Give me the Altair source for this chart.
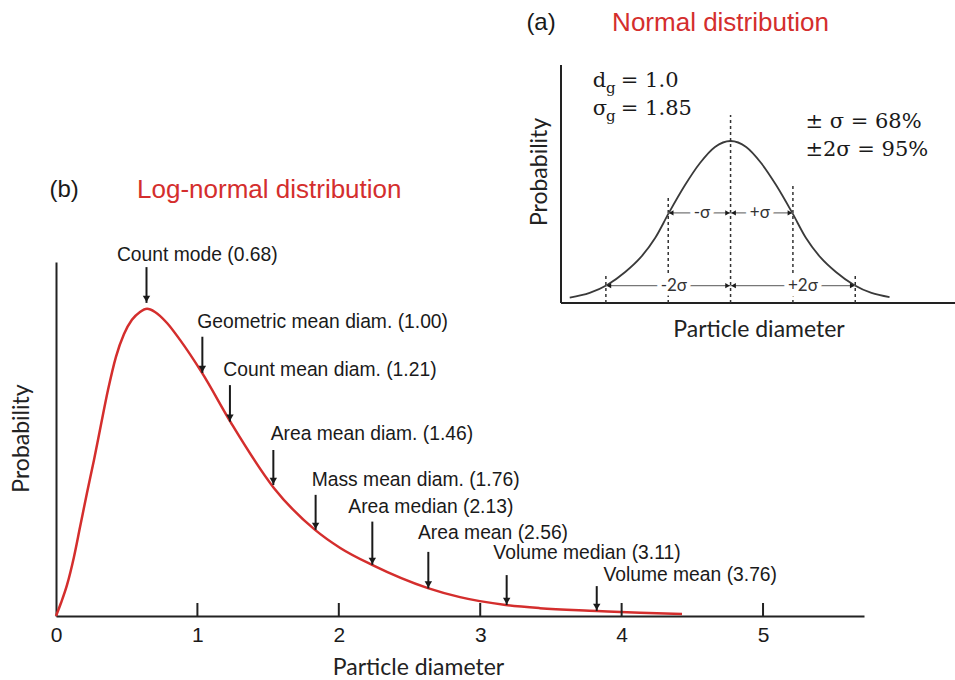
import altair as alt
import pandas as pd

# ---------------- data ----------------
# (b) log-normal curve
curve_x = [0, 0.035, 0.078, 0.127, 0.170, 0.219, 0.269, 0.318, 0.368, 0.424, 0.481, 0.537,
           0.594, 0.644, 0.700, 0.785, 0.877, 1.033, 1.238, 1.542, 1.832, 2.01, 2.235, 2.63,
           2.857, 3.18, 3.42, 3.826, 4.13, 4.427]
curve_y = [0, 0.033, 0.079, 0.150, 0.226, 0.313, 0.397, 0.486, 0.575, 0.659, 0.717, 0.753,
           0.773, 0.781, 0.773, 0.745, 0.702, 0.618, 0.491, 0.325, 0.219, 0.173, 0.130, 0.071,
           0.048, 0.028, 0.020, 0.013, 0.008, 0.005]
tick_values = [0, 1, 2, 3, 4, 5]

ann_labels = ["Count mode (0.68)", "Geometric mean diam. (1.00)", "Count mean diam. (1.21)",
              "Area mean diam. (1.46)", "Mass mean diam.  (1.76)", "Area median (2.13)",
              "Area mean (2.56)", "Volume median (3.11)", "Volume mean (3.76)"]
arrow_x = [0.64, 1.035, 1.23, 1.537, 1.836, 2.237, 2.633, 3.187, 3.824]
arrow_top = [0.887, 0.710, 0.587, 0.422, 0.308, 0.240, 0.163, 0.104, 0.076]
arrow_tip = [0.796, 0.618, 0.494, 0.333, 0.219, 0.130, 0.070, 0.028, 0.013]
label_x = [0.431, 0.999, 1.183, 1.518, 1.808, 2.067, 2.56, 3.093, 3.871]
label_y = [0.918, 0.748, 0.625, 0.463, 0.346, 0.278, 0.21, 0.159, 0.104]

# (a) normal curve (x in sigma units, y relative to peak)
norm_x = [-2.58, -2.26, -1.98, -1.69, -1.45, -1.21, -0.99, -0.73, -0.49, -0.25, 0,
          0.25, 0.49, 0.73, 0.99, 1.21, 1.45, 1.69, 1.98, 2.26, 2.55]
norm_y = [0.033, 0.062, 0.111, 0.191, 0.278, 0.401, 0.556, 0.728, 0.864, 0.963, 1.0,
          0.963, 0.864, 0.728, 0.556, 0.401, 0.278, 0.191, 0.111, 0.062, 0.036]
sigma_x = [-2, -1, 0, 1, 2]
sigma_top = [0.185, 0.654, 1.16, 0.728, 0.185]
seg_start = [-1, 0, -2, 0]
seg_end = [0, 1, 0, 2]
seg_y = [0.556, 0.556, 0.107, 0.107]
seg_label = ["-σ", "+σ", "-2σ", "+2σ"]
seg_label_x = [-0.46, 0.47, -0.91, 1.16]

RED = "#D42E2D"
INK = "#1a1a1a"
W, H = 808, 354

# ---------------- main panel (b) ----------------
mx = alt.Scale(domain=[0, 5.714], nice=False, zero=False)
my = alt.Scale(domain=[0, 0.9], nice=False, zero=False)

x_axis = alt.Axis(
    values=tick_values, ticks=False, tickSize=0, grid=False, labelFlush=False,
    labelFont="Liberation Sans", labelFontSize=21, labelColor=INK, labelPadding=8,
    domainColor="#222", domainWidth=2,
    title="Particle diameter", titleFont="Lato", titleFontSize=23, titleFontWeight="normal",
    titleColor="#222", titleX=362, titleY=51, titleAlign="center", titleBaseline="middle")
y_axis = alt.Axis(
    labels=False, ticks=False, grid=False, domainColor="#222", domainWidth=2,
    title="Probability", titleFont="Lato", titleFontSize=23, titleFontWeight="normal",
    titleColor="#222", titleX=-35, titleY=176, titleAngle=270,
    titleAlign="center", titleBaseline="middle")


def MX(f):
    return alt.X(f, scale=mx, axis=x_axis)


def MY(f):
    return alt.Y(f, scale=my, axis=y_axis)


curve = alt.Chart(pd.DataFrame({"x": curve_x, "y": curve_y})).mark_line(
    color=RED, strokeWidth=2.5, interpolate="monotone"
).encode(x=MX("x:Q"), y=MY("y:Q"))

ticks = alt.Chart(pd.DataFrame({"x": tick_values[1:]})).mark_rule(
    color="#222", strokeWidth=2
).encode(
    x=MX("x:Q"),
    y=alt.value(H - 13), y2=alt.value(H),
)

ann_df = pd.DataFrame({"x": arrow_x, "y": arrow_top, "y2": arrow_tip,
                       "lx": label_x, "ly": label_y, "label": ann_labels})

arrows = alt.Chart(ann_df).mark_rule(color=INK, strokeWidth=2).encode(
    x=MX("x:Q"), y=MY("y:Q"), y2="y2:Q",
)
heads = alt.Chart(ann_df).mark_point(
    shape="triangle-down", filled=True, size=55, color=INK, opacity=1, yOffset=-4
).encode(x=MX("x:Q"), y=MY("y2:Q"))
labels = alt.Chart(ann_df).mark_text(
    align="left", baseline="middle", font="Liberation Sans", fontSize=19.3, color=INK
).encode(x=MX("lx:Q"), y=MY("ly:Q"), text="label:N")

b_tag = alt.Chart(pd.DataFrame({"x": [0.057], "y": [1.083], "t": ["(b)"]})).mark_text(
    align="center", baseline="middle", font="Liberation Sans", fontSize=24, color=INK
).encode(x=MX("x:Q"), y=MY("y:Q"), text="t:N")
b_title = alt.Chart(pd.DataFrame({"x": [0.573], "y": [1.083], "t": ["Log-normal distribution"]})).mark_text(
    align="left", baseline="middle", font="Liberation Sans", fontSize=26, color=RED
).encode(x=MX("x:Q"), y=MY("y:Q"), text="t:N")

main = alt.layer(curve, ticks, arrows, heads, labels, b_tag, b_title)

# ---------------- inset panel (a) ----------------
ix = alt.Scale(domain=[-2.72, 3.60], range=[505, 899], nice=False, zero=False)
iy = alt.Scale(domain=[0, 1], range=[41, -121], nice=False, zero=False)


def X(f):
    return alt.X(f, scale=ix, axis=None)


def Y(f):
    return alt.Y(f, scale=iy, axis=None)


iaxes = alt.Chart(pd.DataFrame({"x": [-2.72, -2.72], "x2": [-2.72, 3.60],
                                "y": [0, 0], "y2": [1.469, 0]})).mark_rule(
    color="#222", strokeWidth=2
).encode(x=X("x:Q"), x2="x2:Q", y=Y("y:Q"), y2="y2:Q")

dotted = alt.Chart(pd.DataFrame({"x": sigma_x, "y": [0] * len(sigma_x), "y2": sigma_top})).mark_rule(
    color="#333", strokeWidth=1.5, strokeDash=[3, 3]
).encode(x=X("x:Q"), y=Y("y:Q"), y2="y2:Q")

ncurve = alt.Chart(pd.DataFrame({"x": norm_x, "y": norm_y})).mark_line(
    color="#3a3a3a", strokeWidth=1.8, interpolate="monotone"
).encode(x=X("x:Q"), y=Y("y:Q"))

seg_df = pd.DataFrame({"x1": seg_start, "x2": seg_end, "y": seg_y,
                       "lab": seg_label, "lx": seg_label_x})
segs = alt.Chart(seg_df).mark_rule(color="#777", strokeWidth=1.2).encode(
    x=X("x1:Q"), x2="x2:Q", y=Y("y:Q"))
lheads = alt.Chart(seg_df).mark_point(
    shape="triangle-left", filled=True, size=28, color=INK, opacity=1, xOffset=3
).encode(x=X("x1:Q"), y=Y("y:Q"))
rheads = alt.Chart(seg_df).mark_point(
    shape="triangle-right", filled=True, size=28, color=INK, opacity=1, xOffset=-3
).encode(x=X("x2:Q"), y=Y("y:Q"))
halo = alt.Chart(seg_df).mark_text(
    font="Lato", fontSize=17, baseline="middle", align="center",
    fill="white", stroke="white", strokeWidth=9
).encode(x=X("lx:Q"), y=Y("y:Q"), text="lab:N")
seglabels = alt.Chart(seg_df).mark_text(
    font="Lato", fontSize=17, baseline="middle", align="center", color="#333"
).encode(x=X("lx:Q"), y=Y("y:Q"), text="lab:N")


def itext(x, y, t, **kw):
    return alt.Chart(pd.DataFrame({"x": [x], "y": [y], "t": [t]})).mark_text(**kw).encode(
        x=X("x:Q"), y=Y("y:Q"), text="t:N")


serif = dict(font="DejaVu Serif", color=INK, align="left", baseline="alphabetic")
a_texts = [
    itext(-3.04, 1.728, "(a)", font="Liberation Sans", fontSize=24, color=INK,
          align="center", baseline="middle"),
    itext(-1.90, 1.728, "Normal distribution", font="Liberation Sans", fontSize=26,
          color=RED, align="left", baseline="middle"),
    itext(-2.21, 1.333, "d", fontSize=21, **serif),
    itext(-2.00, 1.296, "g", fontSize=15, **serif),
    itext(-1.76, 1.333, "= 1.0", fontSize=21, **serif),
    itext(-2.21, 1.160, "σ", fontSize=21, **serif),
    itext(-2.00, 1.123, "g", fontSize=15, **serif),
    itext(-1.76, 1.160, "= 1.85", fontSize=21, **serif),
    itext(1.20, 1.080, "± σ  = 68%", fontSize=21, **serif),
    itext(1.20, 0.907, "±2σ = 95%", fontSize=21, **serif),
    itext(-3.06, 0.809, "Probability", font="Lato", fontSize=23, color="#222",
          align="center", baseline="middle", angle=270),
    itext(0.457, -0.167, "Particle diameter", font="Lato", fontSize=23, color="#222",
          align="center", baseline="middle"),
]

inset = alt.layer(iaxes, ncurve, dotted, segs, lheads, rheads, halo, seglabels, *a_texts)

chart = alt.layer(main, inset).resolve_scale(
    x="independent", y="independent"
).resolve_axis(
    x="independent", y="independent"
).properties(
    width=W, height=H,
    padding={"left": 56, "top": 262, "right": 91, "bottom": 64},
    autosize=alt.AutoSizeParams(type="none"),
    background="white",
).configure_view(strokeWidth=0)

chart.save("out.html", embed_options={"renderer": "svg", "actions": False})
